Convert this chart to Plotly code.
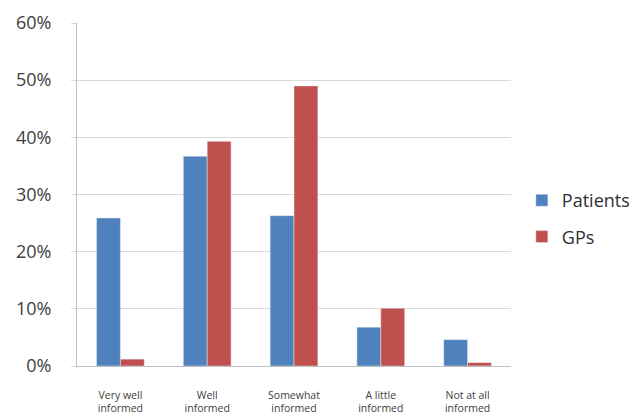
import plotly.graph_objects as go

categories = ["Very well<br>informed", "Well<br>informed", "Somewhat<br>informed", "A little<br>informed", "Not at all<br>informed"]
patients = [0.259, 0.367, 0.263, 0.068, 0.046]
gps = [0.012, 0.393, 0.490, 0.101, 0.006]
y_ticks = [0, 0.1, 0.2, 0.3, 0.4, 0.5, 0.6]

fig = go.Figure()
fig.add_trace(go.Bar(name="Patients", x=categories, y=patients, marker_color="#4f81bd", legendgroup="p"))
fig.add_trace(go.Bar(name="GPs", x=categories, y=gps, marker_color="#c0504d", legendgroup="g"))

fig.update_layout(
    width=638, height=417,
    margin=dict(l=77, r=127, t=23, b=51, autoexpand=False),
    paper_bgcolor="white", plot_bgcolor="white",
    barmode="group", bargap=0.45, bargroupgap=0,
    font=dict(family="Open Sans", color="#404040"),
    legend=dict(x=1.025, y=0.43, yanchor="middle", xanchor="left",
                font=dict(size=18, color="#303030"), tracegroupgap=10,
                itemwidth=30),
    showlegend=True,
)
fig.update_xaxes(
    showline=True, linecolor="#bfbfbf", linewidth=1,
    tickfont=dict(size=10.5, color="#404040"),
    ticklabelstandoff=19, ticks="", showgrid=False, automargin=False,
)
fig.update_yaxes(
    range=[0, 0.6], tickvals=y_ticks, tickformat=".0%",
    showline=True, linecolor="#bfbfbf", linewidth=1,
    gridcolor="#d9d9d9", gridwidth=1,
    tickfont=dict(size=18, color="#404040"),
    ticks="outside", ticklen=5, tickcolor="#d9d9d9",
    ticklabelstandoff=16, zeroline=False, automargin=False,
)
fig.write_html("out.html")
